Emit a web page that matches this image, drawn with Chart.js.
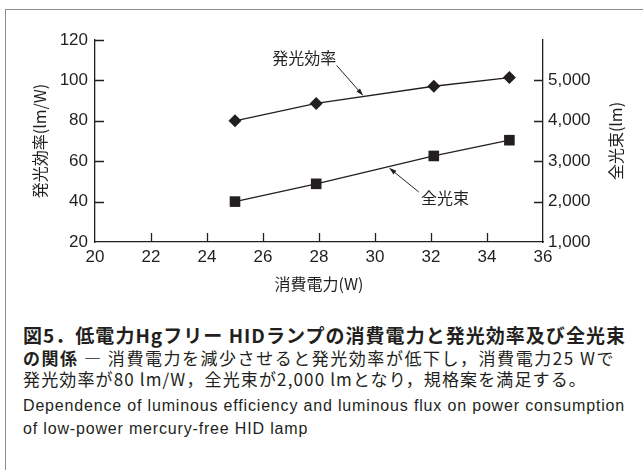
<!DOCTYPE html>
<html lang="ja">
<head>
<meta charset="utf-8">
<script src="https://cdn.jsdelivr.net/npm/chart.js@4.4.0/dist/chart.umd.min.js"></script>
<style>
html, body { margin: 0; padding: 0; background: #fff; }
body { width: 643px; height: 470px; position: relative; overflow: hidden; color: #231f20; }
#frame { position: absolute; left: 5px; top: 9px; width: 700px; height: 500px;
  border-left: 1.5px solid #8c8c8c; border-top: 1.5px solid #8c8c8c; }
#chart { position: absolute; left: 0; top: 0; }
.cap { position: absolute; left: 23px; white-space: nowrap; display: inline-block;
  line-height: 20px; font-family: "Noto Sans CJK JP", sans-serif; }
.b { font-weight: 700; }
.en { font-family: "Liberation Sans", Arial, sans-serif; font-size: 16px; }
</style>
</head>
<body>
<div id="frame"></div>
<canvas id="chart" width="643" height="300"></canvas>
<div class="cap b" id="l1" style="top:325px;font-size:19px;">図5．低電力Hgフリー HIDランプの消費電力と発光効率及び全光束</div>
<div class="cap" id="l2" style="top:348px;font-size:17px;"><span class="b">の関係</span> — 消費電力を減少させると発光効率が低下し，消費電力25 Wで</div>
<div class="cap" id="l3" style="top:369px;font-size:17px;">発光効率が80 lm/W，全光束が2,000 lmとなり，規格案を満足する。</div>
<div class="cap en" id="l4" style="top:396px;">Dependence of luminous efficiency and luminous flux on power consumption</div>
<div class="cap en" id="l5" style="top:419px;">of low-power mercury-free HID lamp</div>
<script>
// データ
const effPower = [25.0, 27.9, 32.1, 34.8];
const efficiency = [80, 88.6, 97.1, 101.4];
const fluxPower = [25.0, 27.9, 32.1, 34.8];
const flux = [2000, 2440, 3130, 3520];

const xTicks = [20, 22, 24, 26, 28, 30, 32, 34, 36];
const effTicks = [20, 40, 60, 80, 100, 120];
const fluxTicks = [1000, 2000, 3000, 4000, 5000, 6000];

// 注記 (データ座標)
const notes = [
  { text: '発光効率', axis: 'y', x: 27.47, y: 111.2, from: [28.63, 107.4], to: [29.58, 92.4] },
  { text: '全光束', axis: 'y1', x: 32.5, y: 2100, from: [31.56, 2240], to: [30.5, 2835] }
];

const INK = '#231f20';
const tickFont = { family: '"Liberation Sans", Arial, sans-serif', size: 17 };
const jpFont = { family: '"Noto Sans CJK JP", sans-serif', size: 16 };

// 内向きの目盛り・注記・右軸タイトル
const extras = {
  id: 'extras',
  afterDraw(chart) {
    const { ctx, chartArea: a, scales: { x, y, y1 } } = chart;
    const len = 9;
    ctx.save();
    ctx.strokeStyle = INK;
    ctx.lineWidth = 1.3;
    ctx.beginPath();
    xTicks.slice(1, -1).forEach(v => {
      const px = Math.round(x.getPixelForValue(v)) + 0.5;
      ctx.moveTo(px, a.bottom); ctx.lineTo(px, a.bottom - len);
    });
    effTicks.slice(1).forEach(v => {
      const py = Math.round(y.getPixelForValue(v)) + 0.5;
      ctx.moveTo(a.left, py); ctx.lineTo(a.left + len, py);
    });
    fluxTicks.slice(1, -1).forEach(v => {
      const py = Math.round(y1.getPixelForValue(v)) + 0.5;
      ctx.moveTo(a.right, py); ctx.lineTo(a.right - len, py);
    });
    ctx.stroke();

    // 注記
    ctx.fillStyle = INK;
    ctx.font = `${jpFont.size}px ${jpFont.family}`;
    ctx.textAlign = 'center';
    ctx.textBaseline = 'middle';
    notes.forEach(n => {
      const ys = chart.scales[n.axis];
      ctx.fillText(n.text, x.getPixelForValue(n.x), ys.getPixelForValue(n.y));
      const x0 = x.getPixelForValue(n.from[0]), y0 = ys.getPixelForValue(n.from[1]);
      const x1 = x.getPixelForValue(n.to[0]), y1p = ys.getPixelForValue(n.to[1]);
      const ang = Math.atan2(y1p - y0, x1 - x0);
      ctx.lineWidth = 1;
      ctx.beginPath();
      ctx.moveTo(x0, y0); ctx.lineTo(x1 - 5 * Math.cos(ang), y1p - 5 * Math.sin(ang));
      ctx.stroke();
      ctx.beginPath();
      ctx.moveTo(x1, y1p);
      ctx.lineTo(x1 - 8 * Math.cos(ang - 0.3), y1p - 8 * Math.sin(ang - 0.3));
      ctx.lineTo(x1 - 8 * Math.cos(ang + 0.3), y1p - 8 * Math.sin(ang + 0.3));
      ctx.closePath();
      ctx.fill();
    });

    // 右軸タイトル
    ctx.save();
    ctx.translate(chart.width - 27, (a.top + a.bottom) / 2);
    ctx.rotate(-Math.PI / 2);
    ctx.fillText('全光束(lm)', 0, 0);
    ctx.restore();
    ctx.restore();
  }
};

const ctx = document.getElementById('chart').getContext('2d');
new Chart(ctx, {
  type: 'line',
  data: {
    datasets: [{
      label: '発光効率',
      data: effPower.map((p, i) => ({ x: p, y: efficiency[i] })),
      yAxisID: 'y',
      borderColor: INK,
      borderWidth: 1.3,
      backgroundColor: INK,
      pointStyle: 'rectRot',
      pointRadius: 6.5,
      pointBorderWidth: 0,
      tension: 0
    }, {
      label: '全光束',
      data: fluxPower.map((p, i) => ({ x: p, y: flux[i] })),
      yAxisID: 'y1',
      borderColor: INK,
      borderWidth: 1.3,
      backgroundColor: INK,
      pointStyle: 'rect',
      pointRadius: 7.5,
      pointBorderWidth: 0,
      tension: 0
    }]
  },
  options: {
    responsive: false,
    animation: false,
    devicePixelRatio: 1,
    layout: { padding: { top: 40, left: 0, right: 0, bottom: 0 } },
    plugins: { legend: { display: false }, tooltip: { enabled: false } },
    scales: {
      x: {
        type: 'linear', min: 20, max: 36,
        afterBuildTicks: s => { s.ticks = xTicks.map(v => ({ value: v })); },
        afterFit: s => { s.height = 58; },
        grid: { display: false, drawTicks: false },
        border: { color: INK, width: 1.3 },
        ticks: { color: INK, font: tickFont, padding: 5, maxRotation: 0 },
        title: { display: true, text: '消費電力(W)', color: INK, font: jpFont, padding: { top: 0, bottom: 6 } }
      },
      y: {
        position: 'left', min: 20, max: 120,
        afterBuildTicks: s => { s.ticks = effTicks.map(v => ({ value: v })); },
        afterFit: s => { s.width = 95; },
        grid: { display: false, drawTicks: false },
        border: { color: INK, width: 1.3 },
        ticks: { color: INK, font: tickFont, padding: 7 },
        title: { display: true, text: '発光効率(lm/W)', color: INK, font: jpFont, padding: { top: 30, bottom: 0 } }
      },
      y1: {
        position: 'right', min: 1000, max: 6000,
        afterBuildTicks: s => { s.ticks = fluxTicks.map(v => ({ value: v })); },
        afterFit: s => { s.width = 100; },
        grid: { display: false, drawTicks: false },
        border: { color: INK, width: 1.3 },
        ticks: {
          color: INK, font: tickFont, padding: 5,
          callback: v => v === 6000 ? null : v.toLocaleString('en-US')
        }
      }
    }
  },
  plugins: [extras]
});

// キャプション幅合わせ
function fitLine(id, target) {
  const el = document.getElementById(id);
  el.style.letterSpacing = '0px';
  const w = el.getBoundingClientRect().width;
  const sp = (target - w) / el.textContent.length;
  el.style.letterSpacing = sp + 'px';
  return sp;
}
document.fonts.ready.then(() => {
  fitLine('l1', 603);
  fitLine('l2', 592);
  fitLine('l3', 564);
  const sp = fitLine('l4', 602);
  document.getElementById('l5').style.letterSpacing = sp + 'px';
});
</script>
</body>
</html>
